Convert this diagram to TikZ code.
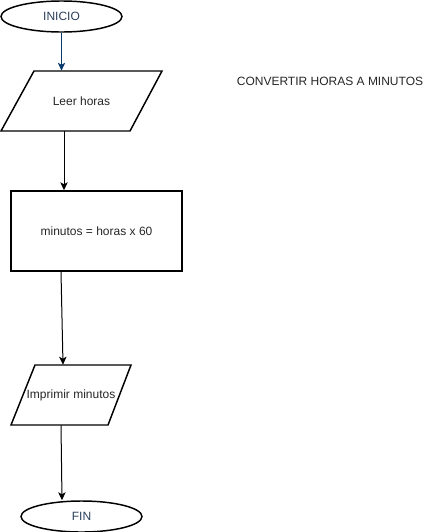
\documentclass[tikz,border=0pt]{standalone}
\usepackage{fontspec}
\setmainfont{Liberation Sans}
\usetikzlibrary{shapes.geometric,arrows.meta}
\definecolor{termtext}{HTML}{2B3F5C}
\definecolor{arrowblue}{HTML}{0B3B6E}
\definecolor{txt}{HTML}{262626}
\begin{document}
\begin{tikzpicture}[x=0.75pt,y=-0.75pt,
  shapeline/.style={draw=black,line width=1.1pt},
  terminal/.style={ellipse,shapeline,minimum width=90.75pt,minimum height=23.25pt,inner sep=0pt,text=termtext,font=\fontsize{9}{11}\selectfont},
  lbl/.style={inner sep=0pt,text=txt,font=\fontsize{9}{11}\selectfont},
  flow/.style={draw=black,line width=0.75pt,-{Stealth[length=6pt,width=5.5pt,inset=1.5pt]}}]
\useasboundingbox (0,0) rectangle (436,532);
% INICIO
\node[terminal] (inicio) at (61.5,16.5) {INICIO};
% Leer horas
\draw[shapeline] (34,71) -- (162,71) -- (130,131) -- (1,131) -- cycle;
\node[lbl,minimum width=120.75pt,minimum height=45pt] (leer) at (81.5,101) {Leer horas};
% proceso
\node[lbl,shapeline,rectangle,minimum width=128.25pt,minimum height=60pt] (proc) at (96.5,231) {minutos = horas x 60};
% Imprimir
\draw[shapeline] (35,365) -- (131,365) -- (108,425) -- (11,425) -- cycle;
\node[lbl,minimum width=90pt,minimum height=45pt] (impr) at (71,395) {Imprimir minutos};
% FIN
\node[terminal] (fin) at (81.5,516.5) {FIN};
% title
\node[lbl] (title) at (330,81) {CONVERTIR HORAS A MINUTOS};
% connectors
\draw[flow,draw=arrowblue] (inicio.south) -- (inicio.south |- leer.north);
\draw[flow] ([shift={(-17.5,0)}]leer.south) -- ([shift={(-32.5,0)}]proc.north);
\draw[flow] ([shift={(-35.5,0)}]proc.south) -- ([shift={(-8,0)}]impr.north);
\draw[flow] ([shift={(-10,0)}]impr.south) -- ([shift={(-19.5,0)}]fin.north);
\end{tikzpicture}
\end{document}
